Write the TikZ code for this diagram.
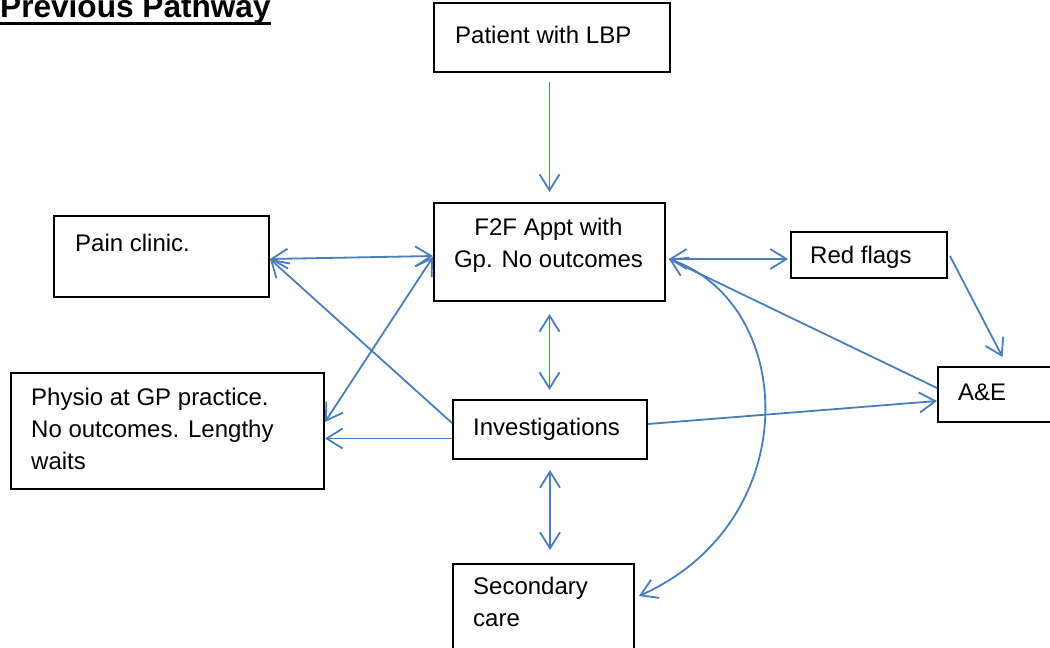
\documentclass[tikz,border=0pt]{standalone}
\usepackage{fontspec}
\setmainfont{Liberation Sans}
\usetikzlibrary{arrows.meta,calc}
\definecolor{lineblue}{RGB}{74,126,187}
\begin{document}
\begin{tikzpicture}[x=1pt,y=-1pt,
  box/.style={draw=black, line width=2pt, anchor=north west, inner sep=0pt},
  txt/.style={font=\fontsize{24}{32}\selectfont, inner sep=0pt, anchor=base west, align=left},
  tip/.tip={Straight Barb[length=16pt,width=20pt]},
  arr/.style={draw=lineblue, line width=1.8pt, -tip},
  darr/.style={draw=lineblue, line width=1.8pt, tip-tip}]
\useasboundingbox (0,0) rectangle (1050,648);
% title
\node[inner sep=0pt, anchor=base west, font=\fontsize{31.6}{36}\selectfont\bfseries] (title) at (0,17) {Previous Pathway};
\draw[line width=3pt] ($(title.base west)+(0,6.5)$) -- ($(title.base east)+(0,6.5)$);
% boxes
\node[box, minimum width=236pt, minimum height=69pt] (patient) at (433,2) {};
\node[box, minimum width=231pt, minimum height=98pt] (f2f) at (433,202) {};
\node[box, minimum width=215pt, minimum height=81pt] (pain) at (53,215) {};
\node[box, minimum width=156pt, minimum height=46pt] (red) at (790,231) {};
\node[box, minimum width=113pt, minimum height=55pt] (ae) at (937,366) {};
\node[box, minimum width=313pt, minimum height=116pt] (physio) at (10,372) {};
\node[box, minimum width=194pt, minimum height=59pt] (inv) at (452,399) {};
\node[box, minimum width=181pt, minimum height=90pt] (sec) at (452,563) {};
% texts (multi-line: base is the last line's baseline)
\node[txt] (patientt) at (455,43) {Patient with LBP};
\node[txt, anchor=base, align=center] (f2ft) at (548.5,267) {F2F Appt with\\Gp. No outcomes};
\node[txt] (paint) at (75,251) {Pain clinic.};
\node[txt] (redt) at (810,263) {Red flags};
\node[txt] (aet) at (958,400) {A\&E};
\node[txt] (physiot) at (31,469) {Physio at GP practice.\\No outcomes. Lengthy\\waits};
\node[txt] (invt) at (473,435) {Investigations};
\node[txt] (sect) at (473,626) {Secondary\\care};
% connectors
\draw[arr, shorten <=9pt, shorten >=10pt] ([xshift=-2.5pt]patient.south) -- (f2f.north);
\draw[darr, shorten <=12pt, shorten >=9pt] (f2f.south) -- (f2f.south |- inv.north);
\draw[darr, shorten <=10pt, shorten >=13pt] (inv.south) -- (inv.south |- sec.north);
\draw[darr] ([yshift=-2.5pt]pain.east) -- ([yshift=-4pt]f2f.west);
\draw[arr] ([yshift=6.5pt]inv.west) -- ([yshift=-2.5pt]pain.east);
\draw[darr] ([yshift=-5pt]f2f.west) -- ([yshift=9pt]physio.east);
\draw[arr] ([yshift=-9pt]inv.west) -- ([yshift=-7.5pt]physio.east);
\draw[darr] ([xshift=3pt,yshift=-7pt]f2f.east) -- ([xshift=-2pt,yshift=-4pt]red.west);
\draw[arr] ([xshift=2pt,yshift=-1pt]red.east) -- ([xshift=8pt,yshift=9pt]ae.north);
\draw[arr] ([yshift=6.5pt]ae.west) -- ([xshift=3pt,yshift=-7pt]f2f.east);
\draw[arr] ([yshift=5.5pt]inv.east) -- ([yshift=-6.5pt]ae.west);
\draw[arr] ([xshift=3pt,yshift=-7pt]f2f.east) .. controls +(128,42) and +(168,-75) .. ([xshift=4pt,yshift=13pt]sec.east);
\end{tikzpicture}
\end{document}
